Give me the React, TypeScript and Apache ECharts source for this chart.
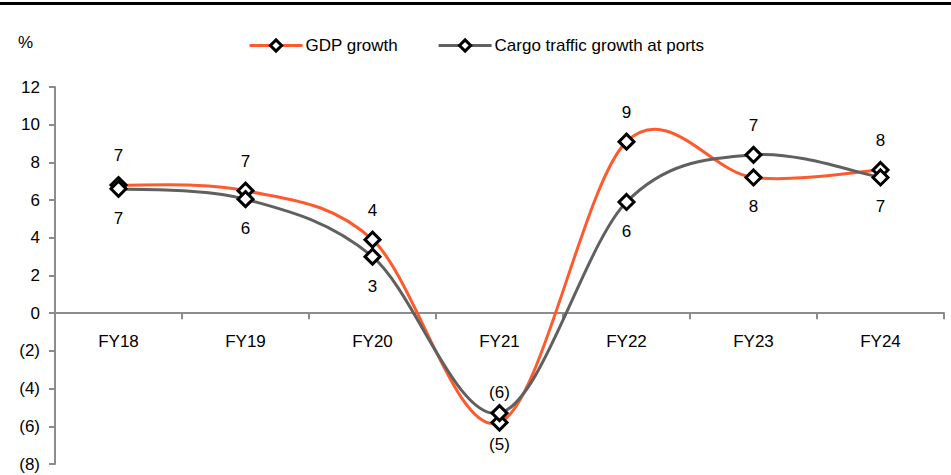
import React, { useEffect, useRef } from "react";
import * as echarts from "echarts";

const categories = ["FY18", "FY19", "FY20", "FY21", "FY22", "FY23", "FY24"];
const gdpGrowth = [6.8, 6.5, 3.9, -5.8, 9.1, 7.2, 7.6];
const cargoGrowth = [6.6, 6.05, 3.0, -5.3, 5.9, 8.4, 7.2];
const gdpLabels = ["7", "7", "4", "(5)", "9", "8", "8"];
const gdpLabelPos = ["top", "top", "top", "bottom", "top", "bottom", "top"];
const cargoLabels = ["7", "6", "3", "(6)", "6", "7", "7"];
const cargoLabelPos = ["bottom", "bottom", "bottom", "top", "bottom", "top", "bottom"];
const yMin = -8;
const yMax = 12;

const FONT = "Liberation Sans, Arial, sans-serif";
const FS = 17;
const GDP_COLOR = "#ff5a2c";
const CARGO_COLOR = "#606060";

// Catmull-Rom style smoothing (like spreadsheet smoothed lines), built from axis coords
function smoothCurve(values: number[], color: string) {
  return (params: any, api: any) => {
    if (params.dataIndex !== 0) return { type: "group", children: [] };
    const pts = values.map((v, i) => api.coord([i, v]));
    let d = `M${pts[0][0]},${pts[0][1]}`;
    for (let i = 0; i < pts.length - 1; i++) {
      const p0 = pts[Math.max(0, i - 1)];
      const p1 = pts[i];
      const p2 = pts[i + 1];
      const p3 = pts[Math.min(pts.length - 1, i + 2)];
      const c1x = p1[0] + (p2[0] - p0[0]) / 6;
      const c1y = p1[1] + (p2[1] - p0[1]) / 6;
      const c2x = p2[0] - (p3[0] - p1[0]) / 6;
      const c2y = p2[1] - (p3[1] - p1[1]) / 6;
      d += ` C${c1x},${c1y} ${c2x},${c2y} ${p2[0]},${p2[1]}`;
    }
    return {
      type: "path",
      shape: { pathData: d },
      style: { stroke: color, lineWidth: 3, fill: "none" },
      silent: true,
    };
  };
}

export default function App() {
  const ref = useRef<HTMLDivElement>(null);
  useEffect(() => {
    if (!ref.current) return;
    const chart = echarts.init(ref.current, undefined, { renderer: "svg" });
    const gridTop = 87;
    const gridBottom = 11;
    const plotH = 475 - gridTop - gridBottom;
    const zeroOffset = -(plotH * (0 - yMin)) / (yMax - yMin);
    const distFor = (i: number, pos: string) => (i === 3 ? (pos === "top" ? 3 : 4) : 12);
    const mkData = (vals: number[], labels: string[], pos: string[]) =>
      vals.map((v, i) => ({
        value: v,
        label: { show: true, position: pos[i], formatter: labels[i], distance: distFor(i, pos[i]) },
      }));
    const markerStyle = { color: "#ffffff", borderColor: "#000000", borderWidth: 3 };
    chart.setOption({
      animation: false,
      textStyle: { fontFamily: FONT },
      grid: { left: 55, right: 7, top: gridTop, bottom: gridBottom, containLabel: false, outerBoundsMode: "none" },
      graphic: [
        { type: "rect", shape: { x: 0, y: 2, width: 951, height: 3 }, style: { fill: "#000" } },
        { type: "text", x: 18, y: 34, style: { text: "%", fontSize: FS, fontFamily: FONT, fill: "#000" } },
      ],
      legend: {
        top: 32,
        left: 243,
        itemGap: 39,
        itemWidth: 53,
        itemHeight: 14,
        textStyle: { fontSize: FS, color: "#000", fontFamily: FONT, padding: [0, 0, 0, -2] },
        data: [
          {
            name: "GDP growth",
            lineStyle: { color: GDP_COLOR, width: 3, opacity: 1 },
            itemStyle: { color: "#fff", borderColor: "#000", borderWidth: 3 },
          },
          {
            name: "Cargo traffic growth at ports",
            lineStyle: { color: CARGO_COLOR, width: 3, opacity: 1 },
            itemStyle: { color: "#fff", borderColor: "#000", borderWidth: 3 },
          },
        ],
      },
      xAxis: {
        type: "category",
        data: categories,
        boundaryGap: true,
        offset: zeroOffset,
        axisLine: { onZero: false, lineStyle: { color: "#8c8c8c", width: 2 } },
        axisTick: { show: true, length: 6, inside: false, lineStyle: { color: "#8c8c8c", width: 2 } },
        axisLabel: { color: "#000", fontSize: FS, margin: 20, fontFamily: FONT },
      },
      yAxis: {
        type: "value",
        min: yMin,
        max: yMax,
        interval: 2,
        splitLine: { show: false },
        axisLine: { show: true, lineStyle: { color: "#8c8c8c", width: 2 } },
        axisTick: { show: true, length: 6, lineStyle: { color: "#8c8c8c", width: 2 } },
        axisLabel: {
          color: "#000",
          fontSize: FS,
          margin: 15,
          fontFamily: FONT,
          formatter: (v: number) => (v < 0 ? `(${Math.abs(v)})` : `${v}`),
        },
      },
      series: [
        {
          name: "GDP curve",
          type: "custom",
          data: gdpGrowth,
          renderItem: smoothCurve(gdpGrowth, GDP_COLOR),
          z: 2,
          clip: false,
        },
        {
          name: "Cargo curve",
          type: "custom",
          data: cargoGrowth,
          renderItem: smoothCurve(cargoGrowth, CARGO_COLOR),
          z: 2,
          clip: false,
        },
        {
          name: "GDP growth",
          type: "line",
          data: mkData(gdpGrowth, gdpLabels, gdpLabelPos),
          symbol: "diamond",
          symbolSize: 15,
          color: GDP_COLOR,
          lineStyle: { color: GDP_COLOR, width: 3, opacity: 0 },
          itemStyle: markerStyle,
          label: { color: "#000", fontSize: FS, fontFamily: FONT },
          z: 3,
        },
        {
          name: "Cargo traffic growth at ports",
          type: "line",
          data: mkData(cargoGrowth, cargoLabels, cargoLabelPos),
          symbol: "diamond",
          symbolSize: 15,
          color: CARGO_COLOR,
          lineStyle: { color: CARGO_COLOR, width: 3, opacity: 0 },
          itemStyle: markerStyle,
          label: { color: "#000", fontSize: FS, fontFamily: FONT },
          z: 4,
        },
      ],
    });
    return () => chart.dispose();
  }, []);
  return <div ref={ref} style={{ width: 951, height: 475, position: "absolute", left: 0, top: 0 }} />;
}
